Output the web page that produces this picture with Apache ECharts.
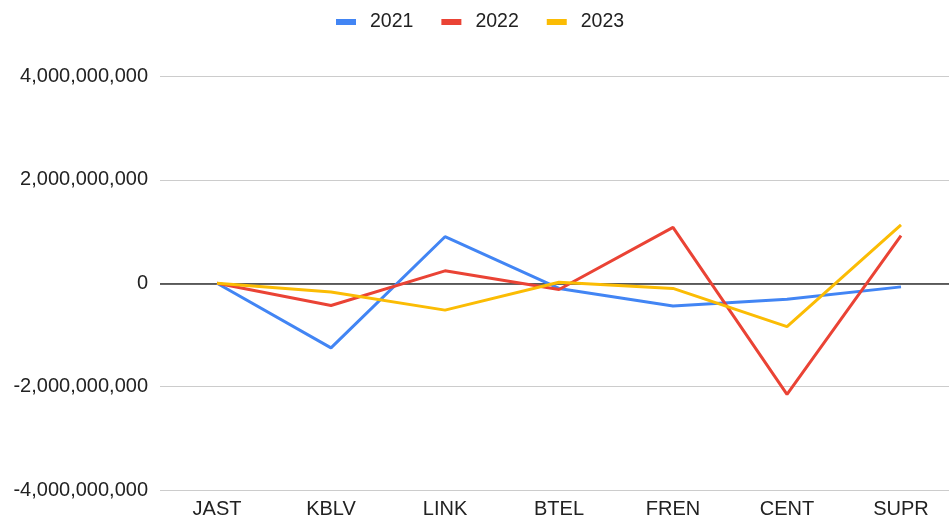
<!DOCTYPE html>
<html>
<head>
<meta charset="utf-8">
<script src="https://cdn.jsdelivr.net/npm/echarts@6/dist/echarts.min.js"></script>
<style>
    html, body { margin: 0; padding: 0; background: #fff; overflow: hidden; }
    #chart { width: 958px; height: 524px; }
</style>
</head>
<body>
<div id="chart"></div>
<script>
var categories = ['JAST', 'KBLV', 'LINK', 'BTEL', 'FREN', 'CENT', 'SUPR'];
// values in billions
var data2021 = [0, -1.25, 0.90, -0.10, -0.44, -0.31, -0.07];
var data2022 = [0, -0.43, 0.24, -0.12, 1.08, -2.15, 0.92];
var data2023 = [0, -0.17, -0.52, 0.02, -0.10, -0.84, 1.13];
var yTicks = [-4000000000, -2000000000, 0, 2000000000, 4000000000];

function toUnits(arr) {
    return arr.map(function (v) { return Math.round(v * 1e9); });
}

var chart = echarts.init(document.getElementById('chart'));

var option = {
    animation: false,
    textStyle: { fontFamily: 'Liberation Sans' },
    color: ['#4285F4', '#EA4335', '#FBBC04'],
    legend: {
        top: 7,
        left: 331,
        icon: 'rect',
        itemWidth: 20,
        itemHeight: 6,
        itemGap: 28,
        textStyle: { fontSize: 19.5, color: '#222', padding: [0, 0, 0, 9] },
        data: ['2021', '2022', '2023']
    },
    grid: {
        left: 160,
        right: 0,
        top: 76.5,
        bottom: 34
    },
    xAxis: {
        type: 'category',
        data: categories,
        boundaryGap: true,
        axisLine: { show: false },
        axisTick: { show: false },
        axisLabel: { fontSize: 20, color: '#222', margin: 9 }
    },
    yAxis: {
        type: 'value',
        min: yTicks[0],
        max: yTicks[yTicks.length - 1],
        interval: 2000000000,
        axisLine: { show: false },
        axisTick: { show: false },
        axisLabel: {
            fontSize: 20,
            color: '#222',
            margin: 12,
            formatter: function (v) { return v.toLocaleString('en-US'); }
        },
        splitLine: { lineStyle: { color: '#cccccc', width: 1 } }
    },
    series: [
        {
            name: '2021',
            type: 'line',
            data: toUnits(data2021),
            symbol: 'none',
            lineStyle: { width: 3 },
            z: 3,
            markLine: {
                silent: true,
                symbol: 'none',
                label: { show: false },
                lineStyle: { color: '#333', width: 1.5, type: 'solid' },
                data: [{ yAxis: 0 }],
                z: 1
            }
        },
        {
            name: '2022',
            type: 'line',
            data: toUnits(data2022),
            symbol: 'none',
            lineStyle: { width: 3 },
            z: 3
        },
        {
            name: '2023',
            type: 'line',
            data: toUnits(data2023),
            symbol: 'none',
            lineStyle: { width: 3 },
            z: 3
        }
    ]
};

chart.setOption(option);
</script>
</body>
</html>
